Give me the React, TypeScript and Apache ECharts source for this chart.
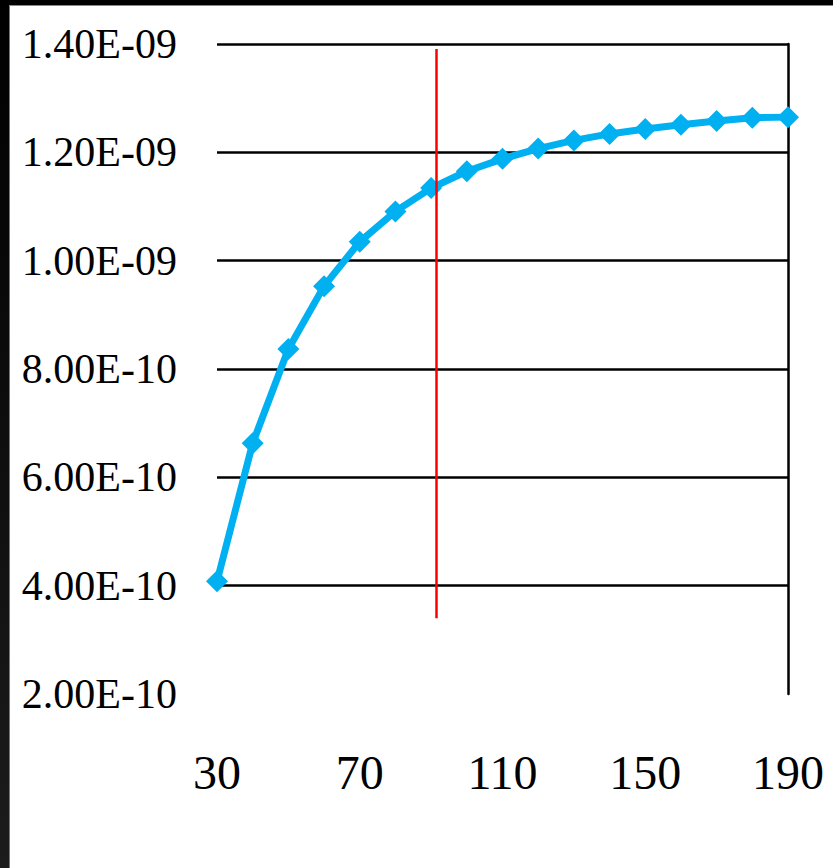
import React, { useEffect, useRef } from "react";
import * as echarts from "echarts";

const xValues = [30, 40, 50, 60, 70, 80, 90, 100, 110, 120, 130, 140, 150, 160, 170, 180, 190];
const yValues = [
  4.08e-10, 6.63e-10, 8.37e-10, 9.53e-10, 1.035e-9, 1.091e-9, 1.134e-9, 1.165e-9, 1.188e-9,
  1.207e-9, 1.222e-9, 1.234e-9, 1.243e-9, 1.251e-9, 1.258e-9, 1.264e-9, 1.265e-9,
];
const xTickLabels = [30, 70, 110, 150, 190];
const yTickValues = [2e-10, 4e-10, 6e-10, 8e-10, 1e-9, 1.2e-9, 1.4e-9];
const markerX = 91.3;
const markerYRange = [1.391e-9, 3.4e-10];

function fmtExp(v: number): string {
  const s = v.toExponential(2);
  const [m, e] = s.split("e");
  const neg = e[0] === "-";
  const digits = e.replace(/^[-+]/, "").padStart(2, "0");
  return `${m}E${neg ? "-" : "+"}${digits}`;
}

export default function App() {
  const ref = useRef<HTMLDivElement>(null);
  useEffect(() => {
    if (!ref.current) return;
    const chart = echarts.init(ref.current, undefined, { renderer: "svg" });
    const font = "'Liberation Serif', 'Times New Roman', serif";
    chart.setOption({
      animation: false,
      backgroundColor: "#ffffff",
      grid: { left: 217, right: 45, top: 44, bottom: 174, containLabel: false },
      xAxis: {
        type: "value",
        min: 30,
        max: 190,
        axisLine: { show: false },
        axisTick: { show: false },
        splitLine: { show: false },
        axisLabel: {
          customValues: xTickLabels,
          color: "#000",
          fontFamily: font,
          fontSize: 48,
          margin: 54,
          formatter: (v: number) => String(v),
        },
      },
      yAxis: [
        {
          type: "value",
          min: yTickValues[0],
          max: yTickValues[yTickValues.length - 1],
          interval: 2e-10,
          axisLine: { show: false },
          axisTick: { show: false },
          axisLabel: {
            customValues: yTickValues,
            color: "#000",
            fontFamily: font,
            fontSize: 42,
            margin: 40,
            formatter: (v: number) => fmtExp(v),
          },
          splitLine: {
            show: true,
            showMinLine: false,
            lineStyle: { color: "#000", width: 2.5 },
          },
        },
        {
          type: "value",
          position: "right",
          min: yTickValues[0],
          max: yTickValues[yTickValues.length - 1],
          axisLine: { show: true, lineStyle: { color: "#000", width: 2.5 } },
          axisTick: { show: false },
          axisLabel: { show: false },
          splitLine: { show: false },
        },
      ],
      series: [
        {
          type: "line",
          data: xValues.map((x, i) => [x, yValues[i]]),
          lineStyle: { color: "#00B0F0", width: 7 },
          itemStyle: { color: "#00B0F0" },
          symbol: "diamond",
          symbolSize: [22, 22],
          markLine: {
            silent: true,
            symbol: ["none", "none"],
            label: { show: false },
            lineStyle: { color: "#FF0000", width: 2.5, type: "solid" },
            data: [[{ coord: [markerX, markerYRange[0]] }, { coord: [markerX, markerYRange[1]] }]],
          },
        },
      ],
      graphic: [
        {
          type: "rect",
          shape: { x: 0, y: 0, width: 9, height: 868 },
          style: {
            fill: new echarts.graphic.LinearGradient(0, 0, 0, 1, [
              { offset: 0, color: "#000000" },
              { offset: 1, color: "#1c1c1c" },
            ]),
          },
          z: 100,
        },
        { type: "rect", shape: { x: 9, y: 5, width: 1, height: 863 }, style: { fill: "#777" }, z: 100 },
        { type: "rect", shape: { x: 0, y: 0, width: 833, height: 5 }, style: { fill: "#000" }, z: 100 },
        { type: "rect", shape: { x: 9, y: 5, width: 824, height: 1 }, style: { fill: "#888" }, z: 100 },
      ],
    });
    return () => chart.dispose();
  }, []);
  return (
    <div
      ref={ref}
      style={{ position: "fixed", left: 0, top: 0, width: 833, height: 868 }}
    />
  );
}
